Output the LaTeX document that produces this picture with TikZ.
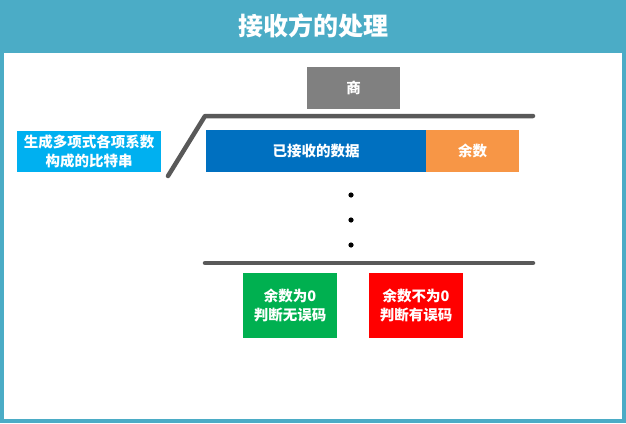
\documentclass[tikz,border=0pt]{standalone}
\usepackage{fontspec}
\setmainfont{Noto Sans CJK SC}
\definecolor{teal}{HTML}{4BACC6}
\definecolor{cblue}{HTML}{0070C0}
\definecolor{corange}{HTML}{F79646}
\definecolor{ccyan}{HTML}{00B0F0}
\definecolor{cgreen}{HTML}{00B050}
\definecolor{cred}{HTML}{FF0000}
\definecolor{cgray}{HTML}{808080}
\definecolor{lgray}{HTML}{595959}
\tikzset{
  box/.style={draw=none, inner sep=0pt, text=white, font=\bfseries\fontsize{14.5}{19}\selectfont, align=center},
  rule/.style={draw=lgray, line width=4.5pt, line cap=round, line join=round},
}
\begin{document}
\begin{tikzpicture}[x=1pt,y=-1pt]
\useasboundingbox (0,0) rectangle (626,423);
\fill[teal] (0,0) rectangle (626,423);
\fill[white] (4,53) rectangle (622,419);
\node[text=white, font=\bfseries\fontsize{25}{29}\selectfont] (title) at (313,26) {接收方的处理};
% boxes
\fill[cgray] (307,67) rectangle (400,109);
\node[box] (shang) at (353.5,88) {商};
\fill[cblue] (206,130) rectangle (426,172);
\node[box] (data) at (316,151) {已接收的数据};
\fill[corange] (426,130) rectangle (519,172);
\node[box] (rem) at (472.5,151) {余数};
\fill[ccyan] (17,131) rectangle (161,172);
\node[box] (poly) at (89,151.5) {生成多项式各项系数\\构成的比特串};
\fill[cgreen] (243,273) rectangle (337,338);
\node[box] (ok) at (290,305.5) {余数为0\\判断无误码};
\fill[cred] (369,273) rectangle (463,338);
\node[box] (err) at (416,305.5) {余数不为0\\判断有误码};
% division lines
\coordinate (a) at (168,176);
\coordinate (b) at (205,116);
\coordinate (c) at (533,116);
\draw[rule] (a) -- (b) -- (c);
\coordinate (d) at (205,263);
\coordinate (e) at (533,263);
\draw[rule] (d) -- (e);
% dots
\foreach \y/\n in {195/d1,220/d2,245/d3} \fill (351,\y) circle (2.6pt) coordinate (\n);
\end{tikzpicture}
\end{document}
